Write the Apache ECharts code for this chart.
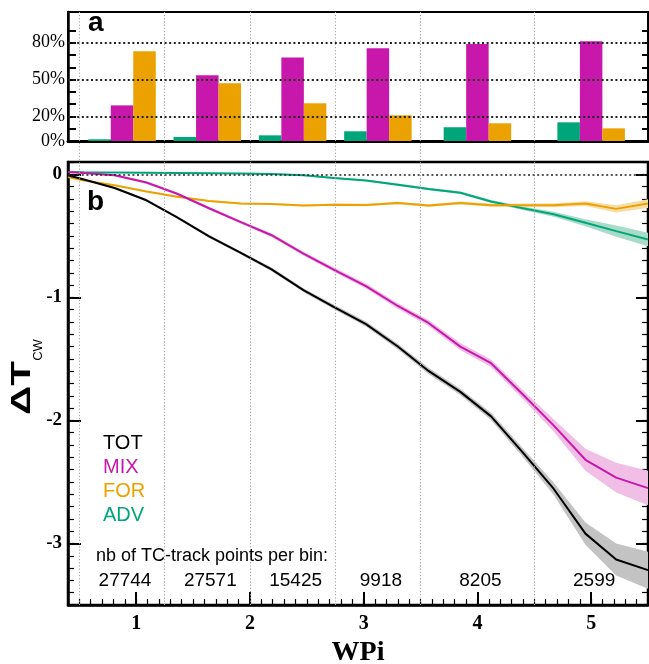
<!DOCTYPE html>
<html>
<head>
<meta charset="utf-8">
<script src="https://cdn.jsdelivr.net/npm/echarts@6/dist/echarts.min.js"></script>
<style>
  html, body { margin: 0; padding: 0; background: #fff; }
  #chart { width: 649px; height: 664px; }
</style>
</head>
<body>
<div id="chart"></div>
<script>
// panel a: share of each process per WPi bin (%)
const binCenters = [0.875, 1.625, 2.375, 3.125, 4.0, 5.0];
const binEdges = [0.5, 1.25, 2, 2.75, 3.5, 4.5];
const shareADV = [1.4, 3.3, 4.6, 7.9, 11.2, 15.2];
const shareMIX = [29, 53.5, 68, 75.5, 79, 81.2];
const shareFOR = [73, 47, 30.7, 20.9, 14.4, 10.3];
const pctTicks = [10, 20, 30, 40, 50, 60, 70, 80, 90];
const pctLabels = [0, 20, 50, 80];
const pctGrid = [20, 50, 80];

// panel b: cold wake anomaly vs WPi
const wpi = [0.40, 0.54, 0.81, 1.09, 1.36, 1.64, 1.92, 2.19, 2.47, 2.74,
             3.02, 3.30, 3.57, 3.85, 4.12, 4.40, 4.67, 4.95, 5.22, 5.50];
const dTOT = [-0.008, -0.042, -0.111, -0.211, -0.35, -0.504, -0.639, -0.773, -0.941, -1.079,
              -1.217, -1.399, -1.598, -1.768, -1.967, -2.262, -2.555, -2.92, -3.13, -3.217];
const dMIX = [0.019, 0.01, -0.008, -0.067, -0.158, -0.276, -0.389, -0.495, -0.645, -0.776,
              -0.908, -1.07, -1.208, -1.40, -1.535, -1.79, -2.04, -2.32, -2.465, -2.55];
const dFOR = [-0.022, -0.05, -0.089, -0.14, -0.182, -0.216, -0.238, -0.242, -0.254, -0.247,
              -0.25, -0.233, -0.254, -0.233, -0.251, -0.251, -0.251, -0.238, -0.281, -0.238];
const dADV = [0.019, 0.016, 0.014, 0.012, 0.01, 0.008, 0.006, 0.002, -0.008, -0.031,
              -0.051, -0.084, -0.12, -0.15, -0.221, -0.276, -0.324, -0.394, -0.462, -0.53];
// half width of the shaded uncertainty
const eTOT = [0.005, 0.005, 0.008, 0.01, 0.01, 0.012, 0.012, 0.015, 0.015, 0.018,
              0.02, 0.022, 0.025, 0.025, 0.03, 0.035, 0.05, 0.09, 0.13, 0.15];
const eMIX = [0.005, 0.005, 0.008, 0.01, 0.01, 0.012, 0.012, 0.015, 0.015, 0.018,
              0.02, 0.022, 0.025, 0.03, 0.03, 0.035, 0.05, 0.09, 0.12, 0.14];
const eFOR = [0.004, 0.005, 0.005, 0.006, 0.006, 0.007, 0.007, 0.008, 0.008, 0.009,
              0.01, 0.01, 0.011, 0.012, 0.013, 0.014, 0.016, 0.02, 0.03, 0.035];
const eADV = [0.003, 0.003, 0.003, 0.004, 0.004, 0.004, 0.005, 0.005, 0.006, 0.007,
              0.008, 0.009, 0.01, 0.011, 0.012, 0.015, 0.02, 0.028, 0.045, 0.055];
const pointCounts = [27744, 27571, 15425, 9918, 8205, 2599];
const wpiTicks = [1, 2, 3, 4, 5];
const dtTicks = [-3, -2, -1, 0];

const colors = { TOT: '#000000', MIX: '#c718ab', FOR: '#eba200', ADV: '#00a67a' };
const bandColors = { TOT: '#c3c3c3', MIX: '#f1bfe6', FOR: '#f7dca8', ADV: '#a9dcc8' };
const countLabelY = -3.305;

const chart = echarts.init(document.getElementById('chart'), null, { renderer: 'canvas' });

const serif = 'Liberation Serif';
const sans = 'Liberation Sans';

// shaded band drawn as one polygon through the axes
function bandSeries(key, ys, err) {
  return {
    type: 'custom', xAxisIndex: 1, yAxisIndex: 2, silent: true, z: 2,
    data: wpi.map((x, i) => [x, ys[i] - err[i], ys[i] + err[i]]),
    encode: { x: 0, y: [1, 2] },
    renderItem: (params, api) => {
      if (params.dataIndex !== 0) return null;
      const upper = wpi.map((x, i) => api.coord([x, ys[i] + err[i]]));
      const lower = wpi.map((x, i) => api.coord([x, ys[i] - err[i]])).reverse();
      return { type: 'polygon', shape: { points: upper.concat(lower) }, style: { fill: bandColors[key] } };
    }
  };
}

function lineSeries(key, ys, extra) {
  return Object.assign({
    type: 'line', name: key, xAxisIndex: 1, yAxisIndex: 2,
    data: wpi.map((x, i) => [x, ys[i]]),
    symbol: 'none', silent: true, z: 4,
    lineStyle: { color: colors[key], width: 2 }
  }, extra || {});
}

function barSeries(key, vals, extra) {
  return Object.assign({
    type: 'bar', name: key, xAxisIndex: 0, yAxisIndex: 0,
    data: binCenters.map((x, i) => [x, vals[i]]),
    barWidth: 22.5, barGap: '0%', silent: true,
    itemStyle: { color: colors[key] }
  }, extra || {});
}

const tickStyle = { color: '#000', width: 2 };
const minorStyle = { color: '#000', width: 1.2 };

const option = {
  animation: false,
  backgroundColor: '#fff',
  grid: [
    { left: 68, right: 1, top: 12, height: 129, outerBoundsMode: 'none', show: true, borderColor: '#000', borderWidth: 2 },
    { left: 68, right: 1, top: 162, bottom: 59, outerBoundsMode: 'none', show: true, borderColor: '#000', borderWidth: 2.5 },
    { left: 68, right: 1, top: 12, bottom: 59, outerBoundsMode: 'none', show: false }
  ],
  xAxis: [
    { gridIndex: 0, type: 'value', min: 0.4, max: 5.5,
      axisLine: { show: true, onZero: false, lineStyle: { color: '#000', width: 3 } },
      axisTick: { show: false }, axisLabel: { show: false }, splitLine: { show: false } },
    { gridIndex: 1, type: 'value', min: 0.4, max: 5.5, position: 'bottom',
      axisLine: { show: true, onZero: false, lineStyle: { color: '#000', width: 2.5 } },
      axisTick: { inside: true, length: 13, customValues: wpiTicks, lineStyle: tickStyle },
      axisLabel: { customValues: wpiTicks, fontFamily: serif, fontWeight: 'bold', fontSize: 20, color: '#000', margin: 9 },
      splitLine: { show: false },
      name: 'WPi', nameLocation: 'middle', nameGap: 29,
      nameTextStyle: { fontFamily: serif, fontWeight: 'bold', fontSize: 28, color: '#000' } },
    { gridIndex: 1, type: 'value', min: 0.4, max: 5.5, interval: 0.1, position: 'bottom',
      axisLine: { show: false, onZero: false },
      axisTick: { inside: true, length: 6, lineStyle: minorStyle },
      axisLabel: { show: false }, splitLine: { show: false } },
    { gridIndex: 2, type: 'value', min: 0.4, max: 5.5, show: false }
  ],
  yAxis: [
    { gridIndex: 0, type: 'value', min: 0, max: 105, position: 'left',
      axisLine: { show: true, onZero: false, lineStyle: { color: '#000', width: 2.5 } },
      axisTick: { inside: true, length: 8, customValues: pctTicks, lineStyle: tickStyle },
      axisLabel: { customValues: pctLabels, formatter: '{value}%', fontFamily: serif, fontSize: 18, color: '#000', margin: 3 },
      splitLine: { show: false } },
    { gridIndex: 0, type: 'value', min: 0, max: 105, position: 'right',
      axisLine: { show: true, onZero: false, lineStyle: { color: '#000', width: 2 } },
      axisTick: { inside: true, length: 6, customValues: pctTicks, lineStyle: tickStyle },
      axisLabel: { show: false }, splitLine: { show: false } },
    { gridIndex: 1, type: 'value', min: -3.5, max: 0.1, position: 'left',
      axisLine: { show: true, onZero: false, lineStyle: { color: '#000', width: 2.5 } },
      axisTick: { inside: true, length: 13, customValues: dtTicks, lineStyle: tickStyle },
      axisLabel: { customValues: dtTicks, fontFamily: serif, fontWeight: 'bold', fontSize: 19, color: '#000', margin: 6 },
      splitLine: { show: false } },
    { gridIndex: 1, type: 'value', min: -3.5, max: 0.1, interval: 0.1, position: 'left',
      axisLine: { show: false, onZero: false },
      axisTick: { inside: true, length: 6, lineStyle: minorStyle },
      axisLabel: { show: false }, splitLine: { show: false } },
    { gridIndex: 1, type: 'value', min: -3.5, max: 0.1, position: 'right',
      axisLine: { show: true, onZero: false, lineStyle: { color: '#000', width: 2 } },
      axisTick: { inside: true, length: 12, customValues: dtTicks, lineStyle: tickStyle },
      axisLabel: { show: false }, splitLine: { show: false } },
    { gridIndex: 1, type: 'value', min: -3.5, max: 0.1, interval: 0.1, position: 'right',
      axisLine: { show: false, onZero: false },
      axisTick: { inside: true, length: 6, lineStyle: minorStyle },
      axisLabel: { show: false }, splitLine: { show: false } },
    { gridIndex: 2, type: 'value', min: 0, max: 1, show: false }
  ],
  series: [
    // bin boundaries through both panels
    { type: 'line', xAxisIndex: 3, yAxisIndex: 6, data: [[0.4, 0]], symbol: 'none', silent: true, z: 1,
      lineStyle: { opacity: 0 },
      markLine: { silent: true, symbol: 'none', label: { show: false }, animation: false,
        lineStyle: { color: '#a3a3a3', type: [1.2, 2], width: 1 },
        data: binEdges.map(v => ({ xAxis: v })) } },
    barSeries('ADV', shareADV),
    barSeries('MIX', shareMIX),
    barSeries('FOR', shareFOR, {
      markLine: { silent: true, symbol: 'none', label: { show: false }, animation: false,
        lineStyle: { color: '#222', type: [2, 2.6], width: 1.8 },
        data: pctGrid.map(v => ({ yAxis: v })) }
    }),
    bandSeries('ADV', dADV, eADV),
    bandSeries('FOR', dFOR, eFOR),
    bandSeries('MIX', dMIX, eMIX),
    bandSeries('TOT', dTOT, eTOT),
    lineSeries('ADV', dADV, {
      markLine: { silent: true, symbol: 'none', label: { show: false }, animation: false,
        lineStyle: { color: '#222', type: [2, 2.6], width: 1.6 },
        data: [{ yAxis: 0 }] }
    }),
    lineSeries('FOR', dFOR),
    lineSeries('MIX', dMIX),
    lineSeries('TOT', dTOT),
    // number of track points written under each bin
    { type: 'custom', xAxisIndex: 1, yAxisIndex: 2, silent: true, z: 5,
      data: binCenters.map((x, i) => [x, countLabelY, pointCounts[i]]),
      encode: { x: 0, y: 1 },
      renderItem: (params, api) => {
        const p = api.coord([api.value(0), api.value(1)]);
        return { type: 'text', x: p[0] + 3, y: p[1],
          style: { text: String(api.value(2)), fontFamily: sans, fontSize: 19, fill: '#000',
            align: 'center', verticalAlign: 'middle', textAlign: 'center', textVerticalAlign: 'middle' } };
      } }
  ],
  graphic: [
    { type: 'text', x: 88, y: 23.5, z: 10, silent: true,
      style: { text: 'a', fontFamily: sans, fontWeight: 'bold', fontSize: 28, fill: '#000',
        align: 'left', verticalAlign: 'middle', textAlign: 'left', textVerticalAlign: 'middle' } },
    { type: 'text', x: 87, y: 202.5, z: 10, silent: true,
      style: { text: 'b', fontFamily: sans, fontWeight: 'bold', fontSize: 28, fill: '#000',
        align: 'left', verticalAlign: 'middle', textAlign: 'left', textVerticalAlign: 'middle' } },
    { type: 'text', x: 22, y: 388, rotation: Math.PI / 2, scaleX: 1.45, z: 10, silent: true,
      style: { text: 'ΔT', fontFamily: sans, fontWeight: 'bold', fontSize: 28, fill: '#000',
        align: 'center', verticalAlign: 'middle', textAlign: 'center', textVerticalAlign: 'middle' } },
    { type: 'text', x: 38, y: 350, rotation: Math.PI / 2, z: 10, silent: true,
      style: { text: 'CW', fontFamily: sans, fontSize: 13, fill: '#000',
        align: 'center', verticalAlign: 'middle', textAlign: 'center', textVerticalAlign: 'middle' } },
    ...['TOT', 'MIX', 'FOR', 'ADV'].map((k, i) => ({
      type: 'text', x: 103, y: 443 + i * 24, z: 10, silent: true,
      style: { text: k, fontFamily: sans, fontSize: 20, fill: colors[k],
        align: 'left', verticalAlign: 'middle', textAlign: 'left', textVerticalAlign: 'middle' }
    })),
    { type: 'text', x: 96, y: 556, z: 10, silent: true,
      style: { text: 'nb of TC-track points per bin:', fontFamily: sans, fontSize: 18, fill: '#000',
        align: 'left', verticalAlign: 'middle', textAlign: 'left', textVerticalAlign: 'middle' } }
  ]
};

chart.setOption(option);
</script>
</body>
</html>
